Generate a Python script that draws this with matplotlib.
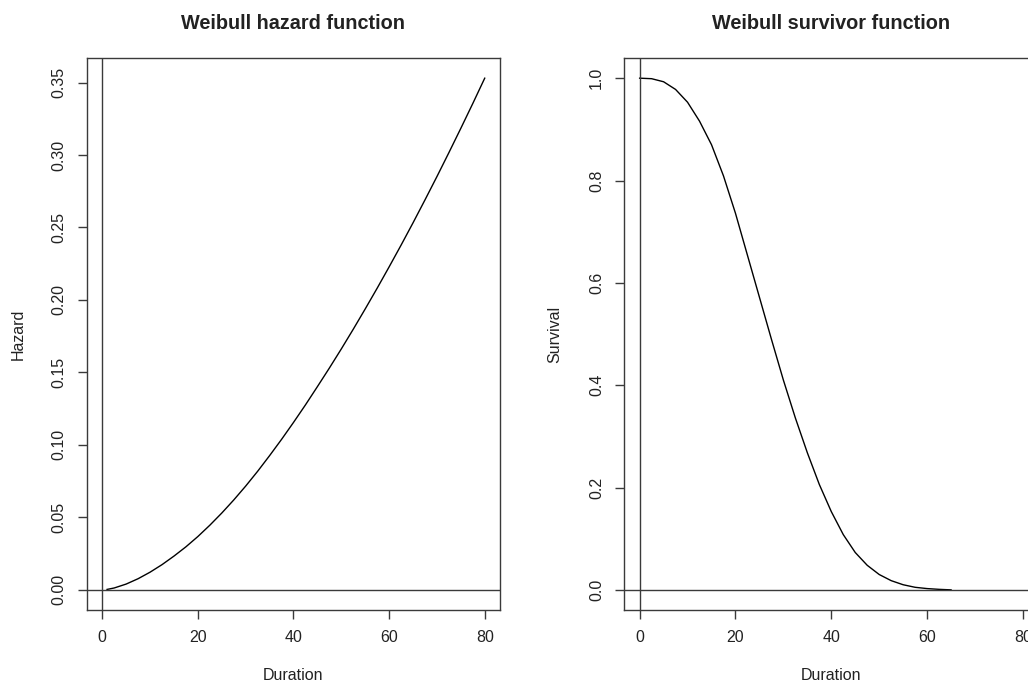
import numpy as np
import matplotlib
matplotlib.use('Agg')
import matplotlib.pyplot as plt

plt.rcParams['font.family'] = ['Liberation Sans', 'DejaVu Sans']

# values
hazard_t = [1, 2.5, 5, 7.5, 10, 12.5, 15, 17.5, 20, 22.5, 25, 27.5, 30, 32.5, 35, 37.5, 40,
            42.5, 45, 47.5, 50, 52.5, 55, 57.5, 60, 62.5, 65, 67.5, 70, 72.5, 75, 77.5, 80]
hazard = [0.0003, 0.0013, 0.0040, 0.0077, 0.0122, 0.0174, 0.0233, 0.0297, 0.0368, 0.0446,
          0.0530, 0.0620, 0.0716, 0.0818, 0.0926, 0.1038, 0.1155, 0.1276, 0.1402, 0.1530,
          0.1662, 0.1798, 0.1938, 0.2081, 0.2228, 0.2378, 0.2532, 0.2690, 0.2851, 0.3016,
          0.3184, 0.3355, 0.3530]

surv_t = [0, 2.5, 5, 7.5, 10, 12.5, 15, 17.5, 20, 22.5, 25, 27.5, 30, 32.5, 35, 37.5, 40,
          42.5, 45, 47.5, 50, 52.5, 55, 57.5, 60, 62.5, 65]
survival = [1.000, 0.999, 0.993, 0.978, 0.953, 0.916, 0.870, 0.809, 0.736, 0.654, 0.572, 0.490,
            0.410, 0.336, 0.268, 0.206, 0.153, 0.108, 0.073, 0.048, 0.030, 0.018, 0.010, 0.005,
            0.0025, 0.001, 0.000]

x_ticks = [0, 20, 40, 60, 80]
hazard_ticks = [0.00, 0.05, 0.10, 0.15, 0.20, 0.25, 0.30, 0.35]
surv_ticks = [0.0, 0.2, 0.4, 0.6, 0.8, 1.0]

frame_col = '#3a3a3a'
text_col = '#222222'


def r_style_panel(ax, x, y, title, ylabel, yticks, yfmt):
    """面板画成 R base graphics 的样子"""
    ax.plot(x, y, color='black', lw=1.0)
    ax.axhline(0, color=frame_col, lw=1.0)
    ax.axvline(0, color=frame_col, lw=1.0)

    # R 默认两边各留 4%
    ax.set_xlim(-3.2, 83.2)
    top = max(y)
    ax.set_ylim(-0.04 * top, top * 1.04)

    ax.set_xticks(x_ticks)
    ax.set_xticklabels([str(v) for v in x_ticks])
    ax.set_yticks(yticks)
    ax.set_yticklabels([yfmt % v for v in yticks], rotation=90, va='center')

    for s in ax.spines.values():
        s.set_color(frame_col)
        s.set_linewidth(1.0)
    ax.tick_params(direction='out', length=6.5, width=1.0, color=frame_col,
                   labelsize=11.5, labelcolor=text_col, pad=8)

    ax.set_title(title, fontsize=14.3, fontweight='bold', color=text_col, pad=21)
    ax.set_xlabel('Duration', fontsize=11.5, color=text_col, va='center')
    ax.xaxis.set_label_coords(0.5, -0.1176)
    ax.set_ylabel(ylabel, fontsize=11.5, color=text_col, va='center')
    ax.yaxis.set_label_coords(-0.167, 0.5)


fig = plt.figure(figsize=(10.28, 6.83), dpi=100)
ax1 = fig.add_axes([0.0846, 0.1064, 0.4018, 0.8091])
ax2 = fig.add_axes([0.6073, 0.1064, 0.4027, 0.8091])  # 右边框在原图里被裁掉了

r_style_panel(ax1, hazard_t, hazard, 'Weibull hazard function', 'Hazard', hazard_ticks, '%.2f')
r_style_panel(ax2, surv_t, survival, 'Weibull survivor function', 'Survival', surv_ticks, '%.1f')

fig.savefig('out.png', dpi=100)
